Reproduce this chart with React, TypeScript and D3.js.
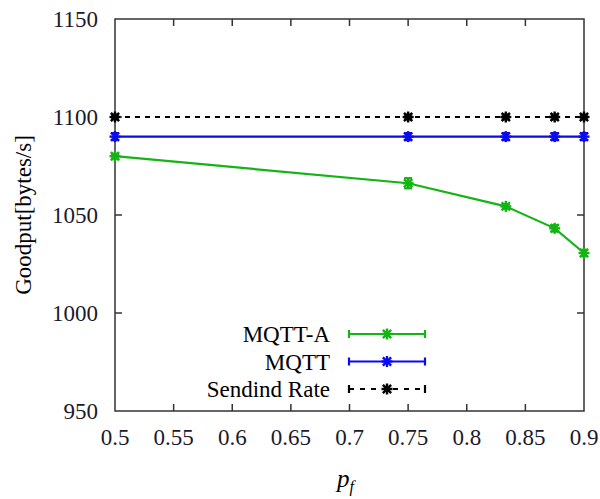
import React, { useEffect, useRef } from 'react';
import * as d3 from 'd3';

// data
const pf = [0.5, 0.75, 0.8333, 0.875, 0.9];
const mqttA = [1080, 1066.2, 1054.4, 1043.2, 1030.6];
const mqttAErr = [1.2, 2.6, 1.1, 1.6, 1.6];
const mqtt = [1090, 1090, 1090, 1090, 1090];
const mqttErr = [1.8, 1.8, 1.8, 1.8, 1.8];
const sendRate = [1100, 1100, 1100, 1100, 1100];
const sendErr = [1.2, 1.2, 1.2, 1.2, 1.2];

const xTicks = [0.5, 0.55, 0.6, 0.65, 0.7, 0.75, 0.8, 0.85, 0.9];
const yTicks = [950, 1000, 1050, 1100, 1150];

const seriesNames = ['MQTT-A', 'MQTT', 'Sendind Rate'];

const App = () => {
  const ref = useRef<SVGSVGElement | null>(null);

  const width = 600, height = 499;
  const marginLeft = 115, marginRight = 16, marginTop = 19, marginBottom = 88;

  const GREEN = '#14b414';
  const BLUE = '#0a0af0';
  const BLACK = '#000';
  const BORDER = '#333';
  const FONT = '"Liberation Serif", "DejaVu Serif", serif';

  useEffect(() => {
    const svg = d3.select(ref.current);
    svg.selectAll('*').remove();

    const x = d3.scaleLinear().domain([0.5, 0.9]).range([marginLeft, width - marginRight]);
    const y = d3.scaleLinear().domain([950, 1150]).range([height - marginBottom, marginTop]);

    const x0 = x(0.5), x1 = x(0.9), y0 = y(950), y1 = y(1150);
    const tickLen = 7;

    // border
    svg.append('rect')
      .attr('x', x0).attr('y', y1)
      .attr('width', x1 - x0).attr('height', y0 - y1)
      .attr('fill', 'none').attr('stroke', BORDER).attr('stroke-width', 1.5);

    // inward ticks (mirrored)
    const ticks = svg.append('g').attr('stroke', BORDER).attr('stroke-width', 1.5);
    xTicks.slice(1, -1).forEach(t => {
      ticks.append('line').attr('x1', x(t)).attr('x2', x(t)).attr('y1', y0).attr('y2', y0 - tickLen);
      ticks.append('line').attr('x1', x(t)).attr('x2', x(t)).attr('y1', y1).attr('y2', y1 + tickLen);
    });
    yTicks.slice(1, -1).forEach(t => {
      ticks.append('line').attr('x1', x0).attr('x2', x0 + tickLen).attr('y1', y(t)).attr('y2', y(t));
      ticks.append('line').attr('x1', x1).attr('x2', x1 - tickLen).attr('y1', y(t)).attr('y2', y(t));
    });

    // tick labels
    svg.append('g')
      .style('font-family', FONT).attr('font-size', 23).attr('fill', '#1a1a2a')
      .selectAll('text').data(xTicks).join('text')
      .attr('x', d => x(d)).attr('y', 445)
      .attr('text-anchor', 'middle')
      .text(d => d3.format('')(d));

    svg.append('g')
      .style('font-family', FONT).attr('font-size', 23).attr('fill', '#1a1a2a')
      .selectAll('text').data(yTicks).join('text')
      .attr('x', 98).attr('y', d => y(d) + 8)
      .attr('text-anchor', 'end')
      .text(d => d);

    // axis titles
    svg.append('text')
      .attr('transform', 'translate(31,215) rotate(-90)')
      .attr('text-anchor', 'middle')
      .style('font-family', FONT).attr('font-size', 23)
      .text('Goodput[bytes/s]');

    const xl = svg.append('text')
      .attr('x', 337).attr('y', 487)
      .style('font-family', FONT).attr('font-size', 25).attr('font-style', 'italic');
    xl.append('tspan').text('p');
    xl.append('tspan').attr('font-size', 16).attr('dy', 5).text('f');

    const star = (g: any, cx: number, cy: number, color: string, s = 5.5) => {
      const p = g.append('g').attr('stroke', color).attr('stroke-width', 2.4);
      p.append('line').attr('x1', cx - s).attr('x2', cx + s).attr('y1', cy).attr('y2', cy);
      p.append('line').attr('x1', cx).attr('x2', cx).attr('y1', cy - s).attr('y2', cy + s);
      p.append('line').attr('x1', cx - s * 0.75).attr('x2', cx + s * 0.75).attr('y1', cy - s * 0.75).attr('y2', cy + s * 0.75);
      p.append('line').attr('x1', cx - s * 0.75).attr('x2', cx + s * 0.75).attr('y1', cy + s * 0.75).attr('y2', cy - s * 0.75);
    };

    const drawSeries = (vals: number[], errs: number[], color: string, dash: string | null) => {
      const g = svg.append('g');
      const line = d3.line<number>().x((_, i) => x(pf[i])).y(d => y(d));
      g.append('path').datum(vals)
        .attr('d', line)
        .attr('fill', 'none').attr('stroke', color).attr('stroke-width', 2.2)
        .attr('stroke-dasharray', dash);
      vals.forEach((v, i) => {
        const cx = x(pf[i]);
        const ya = y(v + errs[i]), yb = y(v - errs[i]);
        const eg = g.append('g').attr('stroke', color).attr('stroke-width', 2.2);
        eg.append('line').attr('x1', cx).attr('x2', cx).attr('y1', ya).attr('y2', yb);
        eg.append('line').attr('x1', cx - 4).attr('x2', cx + 4).attr('y1', ya).attr('y2', ya);
        eg.append('line').attr('x1', cx - 4).attr('x2', cx + 4).attr('y1', yb).attr('y2', yb);
        star(g, cx, y(v), color);
      });
    };

    drawSeries(mqttA, mqttAErr, GREEN, null);
    drawSeries(mqtt, mqttErr, BLUE, null);
    drawSeries(sendRate, sendErr, BLACK, '5,5');

    // legend
    const colors = [GREEN, BLUE, BLACK];
    const dashes = [null, null, '5,6'];
    const lx0 = 349, lx1 = 425;
    seriesNames.forEach((name, i) => {
      const ly = 334 + i * 27.5;
      svg.append('text')
        .attr('x', 330).attr('y', ly + 8)
        .attr('text-anchor', 'end')
        .style('font-family', FONT).attr('font-size', 23)
        .text(name);
      const lg = svg.append('g').attr('stroke', colors[i]).attr('stroke-width', 2.2);
      lg.append('line').attr('x1', lx0).attr('x2', lx1).attr('y1', ly).attr('y2', ly)
        .attr('stroke-dasharray', dashes[i]);
      lg.append('line').attr('x1', lx0).attr('x2', lx0).attr('y1', ly - 4).attr('y2', ly + 4);
      lg.append('line').attr('x1', lx1).attr('x2', lx1).attr('y1', ly - 4).attr('y2', ly + 4);
      star(svg, (lx0 + lx1) / 2, ly, colors[i]);
    });
  }, []);

  return (
    <svg
      ref={ref}
      width={width}
      height={height}
      style={{ position: 'absolute', left: 0, top: 0, background: '#fff' }}
    />
  );
};

export default App;
